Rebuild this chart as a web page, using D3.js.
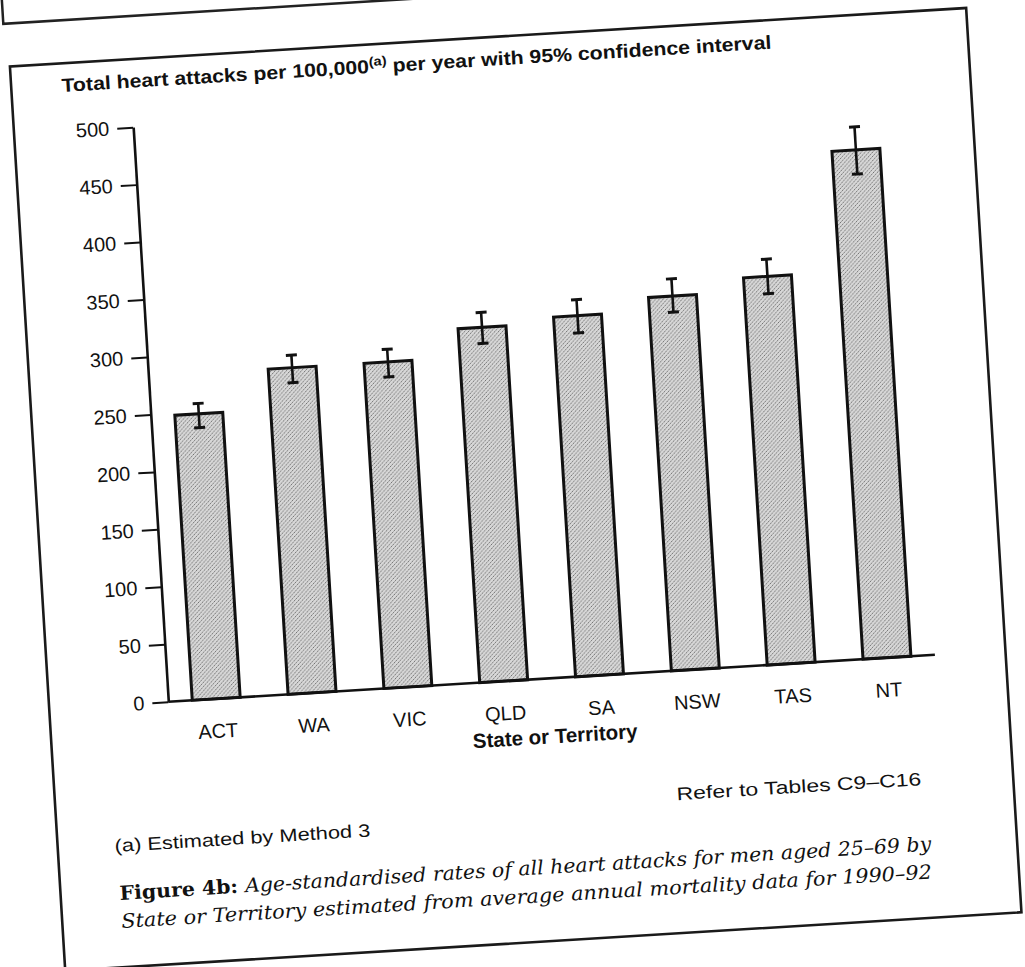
<!DOCTYPE html>
<html><head><meta charset="utf-8">
<script src="https://cdn.jsdelivr.net/npm/d3@7"></script>
<style>html,body{margin:0;padding:0;background:#fff;}svg{display:block;}</style>
</head><body>
<script>
// ---- data ----
const categories = ["ACT","WA","VIC","QLD","SA","NSW","TAS","NT"];
const rates      = [248, 283, 283, 308, 313, 325, 337, 442];
const ciLow      = [236, 270, 270, 294, 298, 311, 322, 421];
const ciHigh     = [257, 294, 294, 321, 327, 340, 352, 462];
const yTicks     = [0,50,100,150,200,250,300,350,400,450,500];
const titleMain  = "Total heart attacks per 100,000";
const titleSup   = "(a)";
const titleRest  = " per year with 95% confidence interval";
const xTitle     = "State or Territory";
const noteRefer  = "Refer to Tables C9\u2013C16";
const noteA      = "(a) Estimated by Method 3";
const capBold    = "Figure 4b: ";
const capLine1   = "Age-standardised rates of all heart attacks for men aged 25\u201369 by";
const capLine2   = "State or Territory estimated from average annual mortality data for 1990\u201392";

// ---- layout ----
const W = 1025, H = 967;
const ox = 168.3, oy = 701.7, angle = -3.5;
const sans = "'Liberation Sans', Arial, Helvetica, sans-serif";
const serif = "'DejaVu Serif', 'Liberation Serif', serif";
const ink = "#111";

const svg = d3.select("body").append("svg").attr("width", W).attr("height", H);
svg.append("rect").attr("width", W).attr("height", H).attr("fill", "#fff");

const defs = svg.append("defs");
const pat = defs.append("pattern").attr("id","stip").attr("patternUnits","userSpaceOnUse")
  .attr("width",4).attr("height",4);
pat.append("rect").attr("width",4).attr("height",4).attr("fill","#d8d8d8");
pat.append("rect").attr("x",0).attr("y",0).attr("width",1).attr("height",1).attr("fill","#6e6e6e");
pat.append("rect").attr("x",2).attr("y",2).attr("width",1).attr("height",1).attr("fill","#787878");
pat.append("rect").attr("x",3).attr("y",1).attr("width",1).attr("height",1).attr("fill","#a8a8a8");
pat.append("rect").attr("x",1).attr("y",3).attr("width",1).attr("height",1).attr("fill","#a0a0a0");

const g = svg.append("g").attr("transform", `rotate(${angle}, ${ox}, ${oy})`);

// frames
g.append("path").attr("d", "M45,-300V15H1200").attr("fill","none").attr("stroke","#222").attr("stroke-width",2.5);
g.append("rect").attr("x",49).attr("y",58).attr("width",958).attr("height",906)
  .attr("fill","none").attr("stroke","#1a1a1a").attr("stroke-width",2.6);

const x = d3.scaleBand().domain(categories).range([ox, ox + 768]).paddingInner(0.5).paddingOuter(0.25);
const y = d3.scaleLinear().domain([0, 500]).range([oy, oy - 575.6]);

// bars
g.selectAll("rect.bar").data(categories).enter().append("rect").attr("class","bar")
  .attr("x", d => x(d)).attr("width", x.bandwidth())
  .attr("y", (d,i) => y(rates[i])).attr("height", (d,i) => y(0) - y(rates[i]))
  .attr("fill","url(#stip)").attr("stroke",ink).attr("stroke-width",3);

// error bars
const eb = g.selectAll("g.eb").data(categories).enter().append("g").attr("class","eb")
  .attr("stroke", ink).attr("stroke-width", 2.6);
eb.append("line").attr("x1", d => x(d) + x.bandwidth()/2).attr("x2", d => x(d) + x.bandwidth()/2)
  .attr("y1", (d,i) => y(ciLow[i])).attr("y2", (d,i) => y(ciHigh[i]));
eb.append("line").attr("x1", d => x(d) + x.bandwidth()/2 - 5.5).attr("x2", d => x(d) + x.bandwidth()/2 + 5.5)
  .attr("y1", (d,i) => y(ciLow[i])).attr("y2", (d,i) => y(ciLow[i])).attr("stroke-width",3);
eb.append("line").attr("x1", d => x(d) + x.bandwidth()/2 - 5.5).attr("x2", d => x(d) + x.bandwidth()/2 + 5.5)
  .attr("y1", (d,i) => y(ciHigh[i])).attr("y2", (d,i) => y(ciHigh[i])).attr("stroke-width",3);

// y axis
const yAxis = g.append("g").attr("transform", `translate(${ox},0)`)
  .call(d3.axisLeft(y).tickValues(yTicks).tickSize(16).tickSizeOuter(0).tickPadding(8));
yAxis.select(".domain").attr("stroke", ink).attr("stroke-width", 2.6);
yAxis.selectAll(".tick line").attr("stroke", ink).attr("stroke-width", 2);
yAxis.selectAll(".tick text").attr("fill", ink).style("font-family", sans).style("font-size", "20px");

// x axis
const xAxis = g.append("g").attr("transform", `translate(0,${oy})`)
  .call(d3.axisBottom(x).tickSize(0).tickPadding(25));
xAxis.select(".domain").attr("stroke", ink).attr("stroke-width", 2.6).attr("d", `M${ox},0H${ox+768}`);
xAxis.selectAll(".tick text").attr("fill", ink).style("font-family", sans).style("font-size", "20px");

g.append("text").attr("x", ox + 384).attr("y", oy + 65).attr("text-anchor","middle")
  .style("font-family", sans).style("font-size","20.5px").style("font-weight","bold").attr("fill", ink)
  .text(xTitle);

// title
const t = g.append("text").attr("x", 99.4).attr("y", 86.6)
  .style("font-family", sans).style("font-size","19px").style("font-weight","bold").attr("fill", ink)
  .attr("textLength", 711).attr("lengthAdjust","spacingAndGlyphs");
t.append("tspan").text(titleMain);
t.append("tspan").attr("dy", -7).style("font-size","13px").text(titleSup);
t.append("tspan").attr("dy", 7).text(titleRest);

// notes
g.append("text").attr("x", 915).attr("y", 831).attr("text-anchor","end")
  .style("font-family", sans).style("font-size","18px").attr("fill", ink)
  .attr("textLength", 245).attr("lengthAdjust","spacingAndGlyphs").text(noteRefer);
g.append("text").attr("x", 106).attr("y", 848.5)
  .style("font-family", sans).style("font-size","18px").attr("fill", ink)
  .attr("textLength", 256).attr("lengthAdjust","spacingAndGlyphs").text(noteA);

const c1 = g.append("text").attr("x", 108).attr("y", 896.7)
  .style("font-family", serif).style("font-size","19.5px").attr("fill", ink)
  .attr("textLength", 813).attr("lengthAdjust","spacingAndGlyphs");
c1.append("tspan").style("font-weight","bold").text(capBold);
c1.append("tspan").style("font-style","italic").text(capLine1);
g.append("text").attr("x", 108).attr("y", 924.7)
  .style("font-family", serif).style("font-size","19.5px").style("font-style","italic").attr("fill", ink)
  .attr("textLength", 812).attr("lengthAdjust","spacingAndGlyphs").text(capLine2);
</script>
</body></html>
